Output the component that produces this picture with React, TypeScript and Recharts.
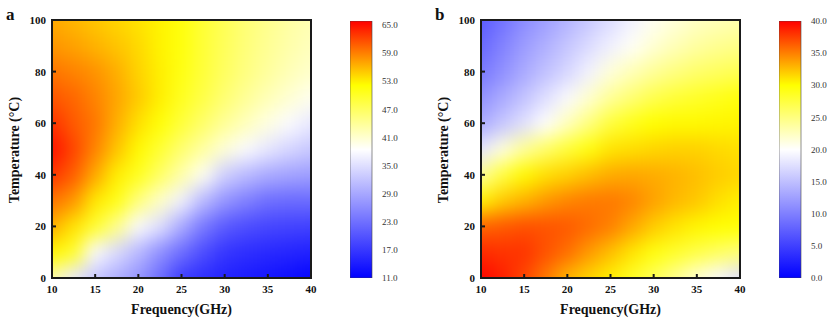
import React from "react";
import { ScatterChart, Scatter, XAxis, YAxis, BarChart, Bar, ReferenceArea } from "recharts";

// grid nodes (GHz, °C)
const FREQ = [10, 12.5, 15, 17.5, 20, 22.5, 25, 27.5, 30, 32.5, 35, 37.5, 40];
const TEMP = [0, 10, 20, 30, 40, 50, 60, 70, 80, 90, 100];
const FREQ_TICKS = [10, 15, 20, 25, 30, 35, 40];
const FREQ_INNER = [15, 20, 25, 30, 35];
const TEMP_TICKS = [0, 20, 40, 60, 80, 100];
const TEMP_INNER = [20, 40, 60, 80];

// panel a: one row per temperature (0 -> 100), one value per frequency
const HEAT_A = [
  [43, 36.3, 32.4, 29.8, 27.1, 22.8, 17.5, 16, 14.8, 14, 13.3, 12.5, 11.5],
  [52.5, 50, 38, 34.5, 30.9, 26.5, 22.8, 19.3, 16.8, 16, 15.4, 15, 14.5],
  [56.5, 53.6, 49.7, 44.6, 38, 35, 29.3, 24, 20.7, 19.3, 18.5, 18.2, 18],
  [59.6, 57.8, 53.4, 51, 45.4, 41.4, 36.9, 31, 27, 24.8, 22.8, 22.5, 22.5],
  [63, 60.8, 56.8, 53, 50.5, 46.8, 43, 39, 33.3, 31, 29.3, 28.5, 28],
  [65, 62.2, 58.8, 55.3, 52.4, 49.4, 46.2, 43.5, 40.5, 38, 35.8, 34, 32.5],
  [63.2, 61, 59.5, 56.5, 53.8, 51.8, 49, 46.5, 44, 42, 40, 38, 36],
  [61.3, 60.3, 58.8, 57, 55, 53, 50.5, 48.3, 46, 44, 42.3, 40.8, 39.3],
  [59.6, 58.8, 58, 56.5, 54.5, 53, 51.2, 49, 47, 45.2, 43.7, 42.3, 41.2],
  [57.8, 57.2, 56.3, 55.3, 54.2, 52.8, 51.5, 49.2, 47.3, 45.6, 44.2, 43, 42],
  [56.8, 56, 55.2, 54.4, 53.6, 52.8, 51.5, 49.3, 47.5, 45.8, 44.5, 43.3, 42.5],
];

// panel b, same layout
const HEAT_B = [
  [39.8, 38.8, 37.3, 35.2, 32.9, 31.7, 30.6, 28.5, 26.5, 24.3, 21.8, 19.5, 17.5],
  [38.4, 38, 38, 36.8, 35.7, 34, 32.5, 31, 29.5, 28.3, 27.2, 26.2, 25.3],
  [36.1, 36.5, 36.9, 36.8, 36.5, 35.8, 35, 33.5, 32, 31, 30.3, 30, 29.8],
  [30.4, 32, 33, 34, 34.8, 35.2, 35.3, 34.8, 33.7, 32.8, 32.2, 31.2, 30.6],
  [24.1, 27.5, 30.2, 31.2, 31.8, 32.6, 33.3, 33.5, 33.3, 33, 32.5, 32, 31.6],
  [18, 21.2, 24, 26, 27.8, 29.5, 31, 31.3, 31.6, 31.8, 31.8, 31.5, 31.2],
  [13.3, 15.5, 17.6, 20, 22.5, 25, 27.6, 29, 30, 30.2, 30.2, 30.3, 30.4],
  [11.4, 13.3, 15.3, 17.5, 19.6, 21.8, 24, 25.5, 26.9, 27.8, 28.4, 29, 29.6],
  [9.4, 11.3, 13.3, 15.1, 16.9, 19, 21.4, 22.8, 24, 25, 25.8, 26.3, 26.8],
  [8.2, 10.2, 12.2, 13.8, 15.5, 17.2, 18.8, 20.3, 21.7, 22.8, 23.7, 24.3, 24.7],
  [7.1, 9, 11, 12.5, 14.1, 15.7, 17.3, 19, 20.5, 21.5, 22.3, 22.8, 23.2],
];

const SCALE_A = [11, 65.86];
const SCALE_A_TICKS = [11, 17, 23, 29, 35, 41, 47, 53, 59, 65];
const SCALE_B = [0, 40];
const SCALE_B_TICKS = [0, 5, 10, 15, 20, 25, 30, 35, 40];

const SERIF = '"Liberation Serif", "Times New Roman", serif';
const INK = "#1a1a1a";

const CHART_W = 320;
const CHART_H = 324;
const MARGIN = { top: 20, right: 9, bottom: 0, left: 0 };
const Y_AXIS_W = 52;
const X_AXIS_H = 46;
const PLOT_X = MARGIN.left + Y_AXIS_W;
const PLOT_Y = MARGIN.top;
const PLOT_W = CHART_W - MARGIN.left - MARGIN.right - Y_AXIS_W;
const PLOT_H = CHART_H - MARGIN.top - MARGIN.bottom - X_AXIS_H;
const CELL_W = (PLOT_W * (FREQ[1] - FREQ[0])) / (FREQ[FREQ.length - 1] - FREQ[0]);
const CELL_H = (PLOT_H * (TEMP[1] - TEMP[0])) / (TEMP[TEMP.length - 1] - TEMP[0]);
const PANEL_SHIFT = 429;

// blue -> white -> yellow -> red
const STOPS: [number, number[]][] = [
  [0, [0, 0, 255]],
  [0.5, [255, 255, 255]],
  [0.75, [255, 255, 0]],
  [1, [255, 0, 0]],
];

function colorOf(v: number, lo: number, hi: number) {
  const t = Math.min(1, Math.max(0, (v - lo) / (hi - lo)));
  for (let i = 1; i < STOPS.length; i++) {
    const [t0, c0] = STOPS[i - 1];
    const [t1, c1] = STOPS[i];
    if (t <= t1) {
      const k = (t - t0) / (t1 - t0);
      const c = c0.map((a, j) => Math.round(a + (c1[j] - a) * k));
      return `rgb(${c.join(",")})`;
    }
  }
  return "rgb(255,0,0)";
}

function cellShape(lo: number, hi: number) {
  return (props: any) => {
    const { cx, cy, payload } = props;
    if (cx == null || cy == null) return <g />;
    let x0 = cx - CELL_W / 2;
    let x1 = cx + CELL_W / 2;
    let y0 = cy - CELL_H / 2;
    let y1 = cy + CELL_H / 2;
    // edge cells reach past the frame, the clip cuts them back
    if (payload.f === FREQ[0]) x0 -= CELL_W;
    if (payload.f === FREQ[FREQ.length - 1]) x1 += CELL_W;
    if (payload.t === TEMP[0]) y1 += CELL_H;
    if (payload.t === TEMP[TEMP.length - 1]) y0 -= CELL_H;
    return (
      <rect
        x={x0 - 0.3}
        y={y0 - 0.3}
        width={x1 - x0 + 0.6}
        height={y1 - y0 + 0.6}
        fill={colorOf(payload.v, lo, hi)}
        stroke="none"
      />
    );
  };
}

const tickStyle = { fill: "#111", stroke: "none", fontSize: 11, fontWeight: 700, fontFamily: SERIF };
const barTickStyle = { fill: "#333", stroke: "none", fontSize: 9, fontFamily: SERIF };

function HeatPanel({ values, range, ticks, left }: { values: number[][]; range: number[]; ticks: number[]; left: number }) {
  const cells = TEMP.flatMap((t, i) => FREQ.map((f, j) => ({ f, t, v: values[i][j] })));
  const [lo, hi] = range;
  return (
    <>
      {/* colour field, cut to the plot box */}
      <div
        className="heat"
        style={{ position: "absolute", left: left + PLOT_X, top: PLOT_Y, width: PLOT_W, height: PLOT_H, overflow: "hidden" }}
      >
        <div style={{ position: "absolute", left: -PLOT_X, top: -PLOT_Y }}>
          <ScatterChart
            width={CHART_W}
            height={CHART_H}
            margin={{ top: MARGIN.top, right: MARGIN.right, bottom: X_AXIS_H, left: PLOT_X }}
          >
            <XAxis type="number" dataKey="f" domain={[10, 40]} allowDataOverflow hide />
            <YAxis type="number" dataKey="t" domain={[0, 100]} allowDataOverflow hide />
            <Scatter data={cells} shape={cellShape(lo, hi)} isAnimationActive={false} />
          </ScatterChart>
        </div>
      </div>
      {/* frame, ticks and tick labels on top */}
      <div className="frame" style={{ position: "absolute", left, top: 0 }}>
        <ScatterChart width={CHART_W} height={CHART_H} margin={MARGIN}>
          <XAxis
            xAxisId="bottom"
            type="number"
            dataKey="f"
            domain={[10, 40]}
            ticks={FREQ_TICKS}
            allowDataOverflow
            height={X_AXIS_H}
            stroke={INK}
            strokeWidth={2}
            axisLine
            tickLine
            tickSize={-4}
            tickMargin={11}
            tick={tickStyle}
          />
          <XAxis
            xAxisId="top"
            orientation="top"
            type="number"
            domain={[10, 40]}
            ticks={FREQ_INNER}
            height={0}
            stroke={INK}
            strokeWidth={2}
            axisLine
            tickLine
            tickSize={-4}
            tick={false}
          />
          <YAxis
            yAxisId="left"
            type="number"
            dataKey="t"
            domain={[0, 100]}
            ticks={TEMP_TICKS}
            allowDataOverflow
            width={Y_AXIS_W}
            stroke={INK}
            strokeWidth={2}
            axisLine
            tickLine
            tickSize={-4}
            tickMargin={10}
            tick={tickStyle}
          />
          <YAxis
            yAxisId="right"
            orientation="right"
            type="number"
            domain={[0, 100]}
            ticks={TEMP_INNER}
            width={0}
            stroke={INK}
            strokeWidth={2}
            axisLine
            tickLine
            tickSize={-4}
            tick={false}
          />
          <ReferenceArea
            xAxisId="bottom"
            yAxisId="left"
            x1={10}
            x2={40}
            y1={0}
            y2={100}
            fill="none"
            fillOpacity={0}
            stroke={INK}
            strokeWidth={2}
            strokeOpacity={1}
            ifOverflow="visible"
          />
          <Scatter
            xAxisId="bottom"
            yAxisId="left"
            data={cells}
            shape={() => <g />}
            isAnimationActive={false}
          />
        </ScatterChart>
      </div>
      <div style={{ position: "absolute", left: left + 350, top: 0 }}>
        <BarChart
          width={60}
          height={CHART_H}
          data={[{ name: "scale", span: range }]}
          margin={{ top: 21, right: 0, bottom: 46, left: 0 }}
          barCategoryGap={0}
        >
          <XAxis dataKey="name" hide />
          <YAxis
            orientation="right"
            type="number"
            width={38}
            domain={range}
            ticks={ticks}
            allowDataOverflow
            tickFormatter={(v: number) => v.toFixed(1)}
            axisLine={false}
            tickLine={false}
            tickSize={0}
            tickMargin={10}
            tick={barTickStyle}
          />
          <Bar dataKey="span" fill="url(#cbar)" stroke="#444" strokeWidth={0.6} isAnimationActive={false} />
        </BarChart>
      </div>
    </>
  );
}

export default function App() {
  return (
    <div style={{ position: "absolute", left: 0, top: 0, width: 834, height: 324, background: "#fff" }}>
      <style>{`.heat .recharts-scatter{filter:url(#smooth)} .frame .recharts-cartesian-axis-line,.frame .recharts-cartesian-axis-tick-line{stroke:${INK};stroke-width:2px}`}</style>
      <HeatPanel values={HEAT_A} range={SCALE_A} ticks={SCALE_A_TICKS} left={0} />
      <HeatPanel values={HEAT_B} range={SCALE_B} ticks={SCALE_B_TICKS} left={PANEL_SHIFT} />
      <svg
        width={834}
        height={324}
        style={{ position: "absolute", left: 0, top: 0, pointerEvents: "none" }}
        fontFamily={SERIF}
        fontWeight={700}
        fill="#111"
      >
        <defs>
          <filter id="smooth" x="-20%" y="-20%" width="140%" height="140%" colorInterpolationFilters="sRGB">
            <feGaussianBlur stdDeviation="8.5 10" />
            <feComponentTransfer>
              <feFuncA type="linear" slope="30" intercept="0" />
            </feComponentTransfer>
          </filter>
          <linearGradient id="cbar" x1="0" y1="0" x2="0" y2="1">
            <stop offset="0" stopColor="#ff0000" />
            <stop offset="0.25" stopColor="#ffff00" />
            <stop offset="0.5" stopColor="#ffffff" />
            <stop offset="1" stopColor="#0000ff" />
          </linearGradient>
        </defs>
        {[0, PANEL_SHIFT].map((dx, i) => (
          <g key={i}>
            <text x={dx + 6} y={20} fontSize={17}>
              {i === 0 ? "a" : "b"}
            </text>
            <text transform={`translate(${dx + 19},150) rotate(-90)`} textAnchor="middle" fontSize={14}>
              Temperature (°C)
            </text>
            <text x={dx + 181.5} y={314} textAnchor="middle" fontSize={14}>
              Frequency(GHz)
            </text>
          </g>
        ))}
      </svg>
    </div>
  );
}
